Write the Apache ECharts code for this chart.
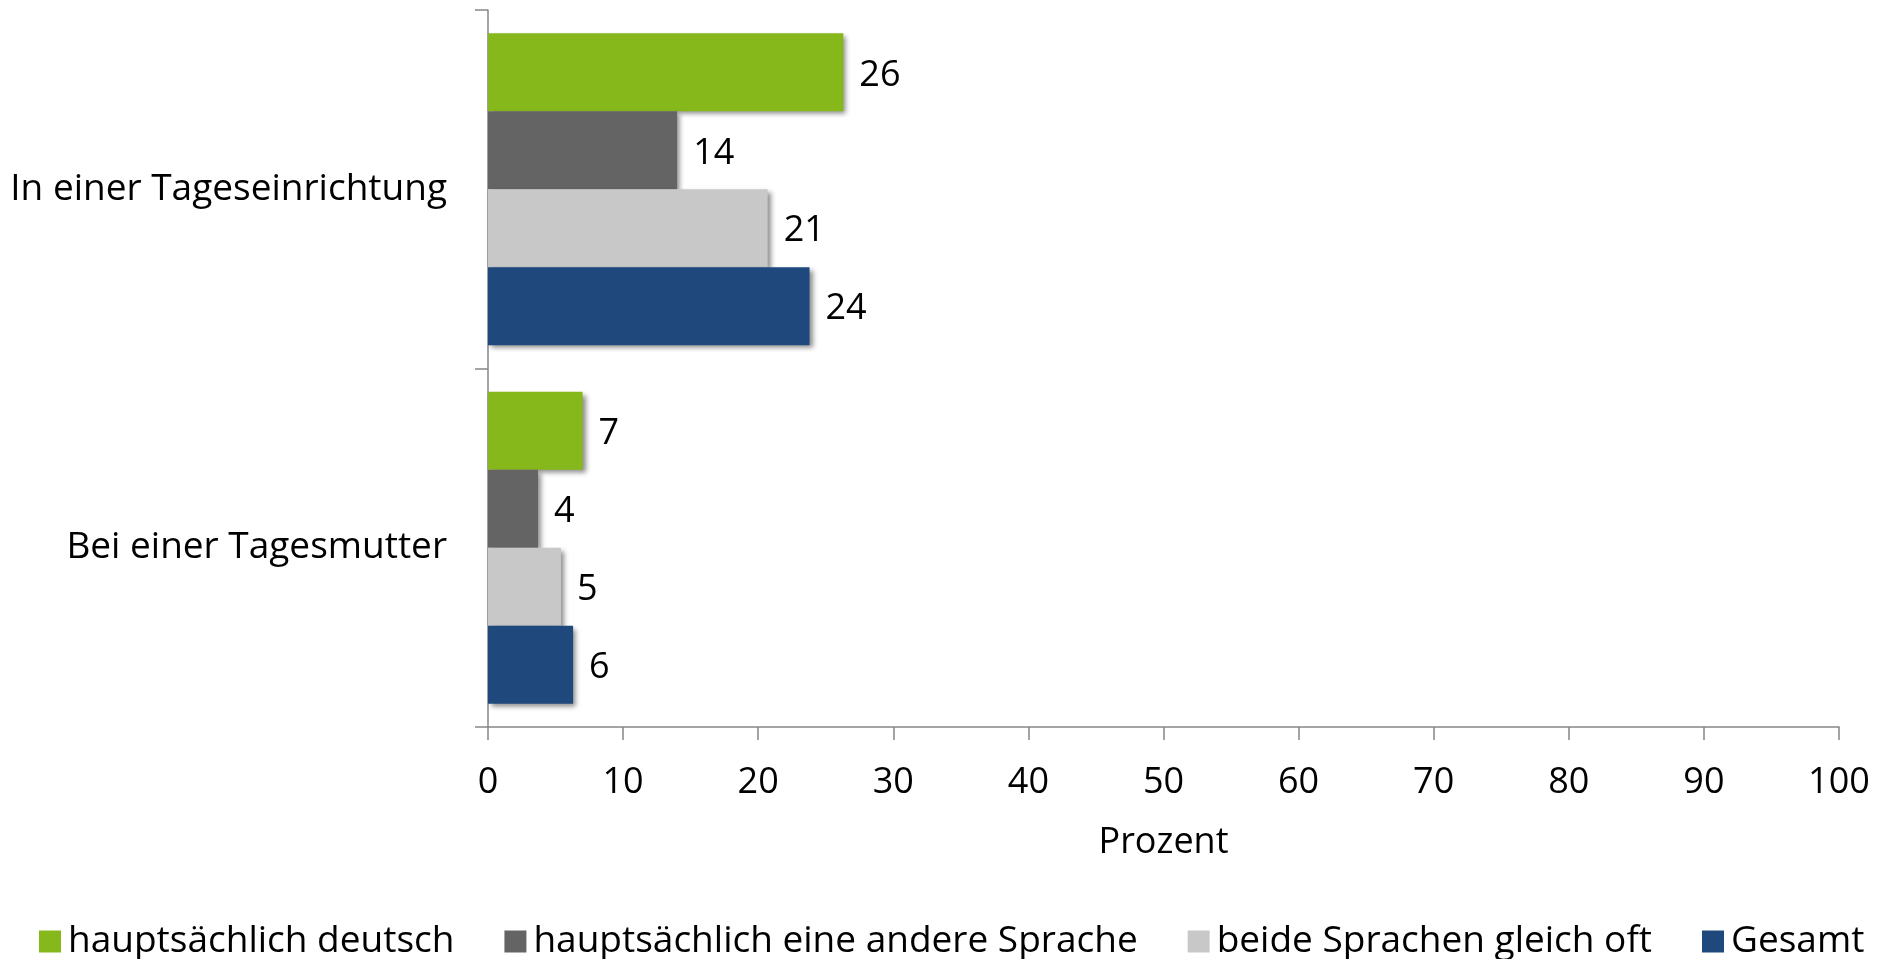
<!DOCTYPE html>
<html>
<head>
<meta charset="utf-8">
<script src="https://cdn.jsdelivr.net/npm/echarts@6/dist/echarts.min.js"></script>
<style>
    html, body { margin: 0; padding: 0; background: #fff; }
    #chart { width: 1879px; height: 959px; }
</style>
</head>
<body>
<div id="chart"></div>
<script>
// Kategorien (oben nach unten)
const categories = ['In einer Tageseinrichtung', 'Bei einer Tagesmutter']
const seriesNames = ['hauptsächlich deutsch', 'hauptsächlich eine andere Sprache', 'beide Sprachen gleich oft', 'Gesamt']
const deutsch = [26.3, 7.0]
const andere = [14.0, 3.7]
const beide = [20.7, 5.4]
const gesamt = [23.8, 6.3]
const xTicks = [0, 10, 20, 30, 40, 50, 60, 70, 80, 90, 100]

const colors = ['#86B81B', '#646464', '#C8C8C8', '#1F497D']
const values = [deutsch, andere, beide, gesamt]
const font = '"Open Sans", sans-serif'
const axisColor = '#878787'

const chart = echarts.init(document.getElementById('chart'))

chart.setOption({
    animation: false,
    textStyle: { fontFamily: font },
    grid: {
        left: 488,
        right: 40,
        top: 10,
        bottom: 232
    },
    legend: {
        left: 34,
        top: 918,
        icon: 'rect',
        itemWidth: 22,
        itemHeight: 22,
        itemGap: 50,
        textStyle: { fontSize: 37, color: '#000', fontFamily: font, padding: [0, 0, 0, 2] },
        data: seriesNames
    },
    xAxis: {
        type: 'value',
        min: xTicks[0],
        max: xTicks[xTicks.length - 1],
        interval: 10,
        name: 'Prozent',
        nameLocation: 'middle',
        nameGap: 98,
        nameTextStyle: { fontSize: 36, color: '#000', fontFamily: font },
        splitLine: { show: false },
        axisLine: { show: true, lineStyle: { color: axisColor, width: 1.5 } },
        axisTick: { show: true, length: 13, lineStyle: { color: axisColor, width: 1.5 } },
        axisLabel: { margin: 38, fontSize: 36, color: '#000', fontFamily: font }
    },
    yAxis: {
        type: 'category',
        inverse: true,
        data: categories,
        axisLine: { lineStyle: { color: axisColor, width: 1.5 } },
        axisTick: { show: true, length: 13, lineStyle: { color: axisColor, width: 1.5 } },
        axisLabel: { margin: 41, fontSize: 37, color: '#000', fontFamily: font }
    },
    series: seriesNames.map(function (name, i) {
        return {
            name: name,
            type: 'bar',
            data: values[i],
            barGap: '0%',
            barCategoryGap: '13%',
            itemStyle: {
                color: colors[i],
                shadowColor: 'rgba(0,0,0,0.45)',
                shadowBlur: 5,
                shadowOffsetX: 3,
                shadowOffsetY: 3
            },
            label: {
                show: true,
                position: 'right',
                distance: 16,
                offset: [0, 3],
                fontSize: 36,
                color: '#000',
                fontFamily: font,
                formatter: function (p) {
                    return Math.round(p.value)
                }
            }
        }
    })
})
</script>
</body>
</html>
